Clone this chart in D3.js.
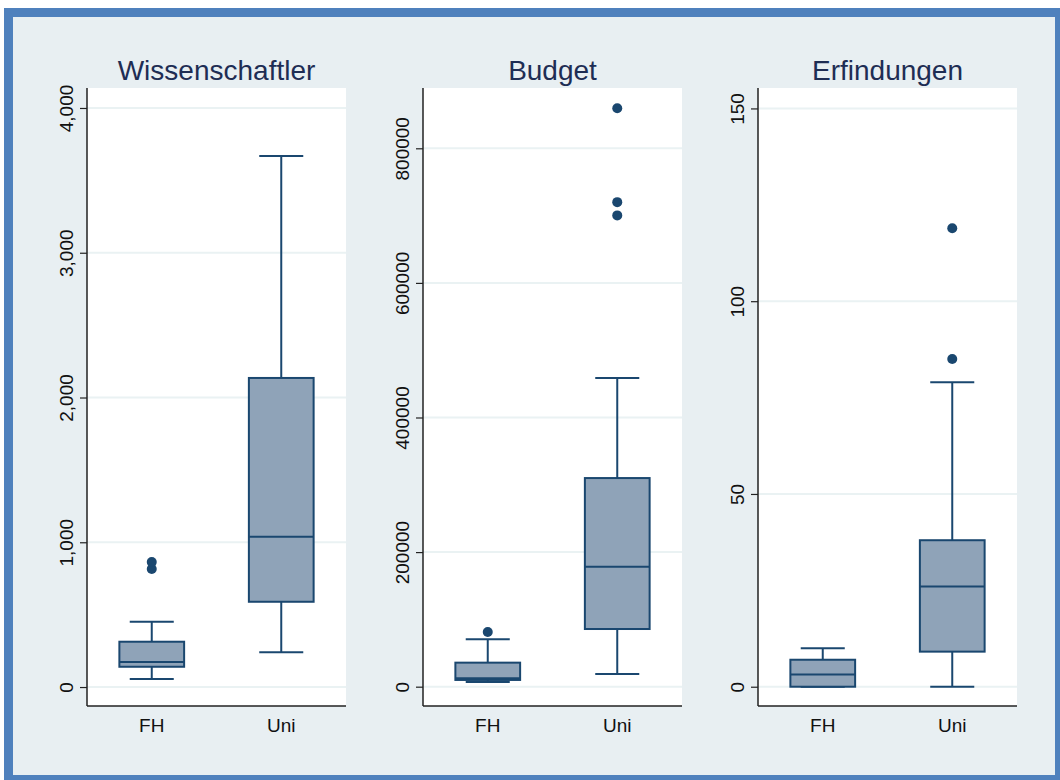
<!DOCTYPE html>
<html>
<head>
<meta charset="utf-8">
<script src="https://cdn.jsdelivr.net/npm/d3@7"></script>
<style>
  html, body { margin: 0; padding: 0; background: #ffffff; }
  svg { display: block; }
</style>
</head>
<body>
<svg id="chart" width="1060" height="780"></svg>
<script>
// Groups shown on every x axis
const groups = ["FH", "Uni"];
const titles = ["Wissenschaftler", "Budget", "Erfindungen"];

// Box summaries per group: [lower whisker, Q1, median, Q3, upper whisker]
const wissStats = [[55, 140, 173, 313, 451], [240, 589, 1038, 2135, 3668]];
const wissOutliers = [[815, 863], []];
const wissTicks = [0, 1000, 2000, 3000, 4000];
const wissDomain = [-131, 4138];

const budgetStats = [[7000, 10000, 12500, 35700, 70400], [18900, 85700, 178300, 310000, 458700]];
const budgetOutliers = [[81300], [700300, 720000, 859400]];
const budgetTicks = [0, 200000, 400000, 600000, 800000];
const budgetDomain = [-28700, 889600];

const erfStats = [[0, 0, 3.2, 7.0, 10.0], [0, 9.1, 26.0, 38.0, 79.0]];
const erfOutliers = [[], [85.0, 118.9]];
const erfTicks = [0, 50, 100, 150];
const erfDomain = [-5, 155.3];

const panels = [
  { title: titles[0], stats: wissStats, outliers: wissOutliers, ticks: wissTicks, domain: wissDomain, fmt: d3.format(","), left: 87 },
  { title: titles[1], stats: budgetStats, outliers: budgetOutliers, ticks: budgetTicks, domain: budgetDomain, fmt: d3.format("d"), left: 423 },
  { title: titles[2], stats: erfStats, outliers: erfOutliers, ticks: erfTicks, domain: erfDomain, fmt: d3.format("d"), left: 758 }
];

const FONT = "'Liberation Sans', Arial, Helvetica, sans-serif";
const navy = "#1a476f";
const boxFill = "#8fa3b8";
const gridCol = "#eaf2f3";
const plotW = 259, plotTop = 88, plotBottom = 706;

const svg = d3.select("#chart");

// Outer frame and background
svg.append("rect").attr("x", 4).attr("y", 8).attr("width", 1070).attr("height", 790).attr("fill", "#4f81bd");
svg.append("rect").attr("x", 13).attr("y", 17).attr("width", 1042).attr("height", 758).attr("fill", "#e8eff2");

panels.forEach(p => {
  const g = svg.append("g").attr("transform", `translate(${p.left},0)`);
  const y = d3.scaleLinear().domain(p.domain).range([plotBottom, plotTop]);
  const x = d3.scaleBand().domain(groups).range([0, plotW]).paddingInner(0.5).paddingOuter(0.25);
  const bw = x.bandwidth();
  const capW = bw * 0.68;

  // Plot area
  g.append("rect").attr("x", 0).attr("y", plotTop).attr("width", plotW).attr("height", plotBottom - plotTop).attr("fill", "#ffffff");

  // Gridlines
  g.selectAll("line.grid").data(p.ticks).join("line")
    .attr("class", "grid")
    .attr("x1", 0).attr("x2", plotW)
    .attr("y1", d => y(d)).attr("y2", d => y(d))
    .attr("stroke", gridCol).attr("stroke-width", 2);

  // Y axis
  const yAxis = d3.axisLeft(y).tickValues(p.ticks).tickFormat(p.fmt).tickSize(7).tickPadding(7);
  const ya = g.append("g").call(yAxis);
  ya.select(".domain").remove();
  ya.selectAll(".tick line").attr("stroke", "#222").attr("stroke-width", 1.2);
  ya.selectAll(".tick text")
    .attr("font-family", FONT).attr("font-size", 19).attr("fill", "#111")
    .attr("x", null).attr("dy", null)
    .attr("text-anchor", "middle")
    .attr("transform", "translate(-14,0) rotate(-90)");

  g.append("line").attr("x1", 0).attr("x2", 0).attr("y1", plotTop).attr("y2", plotBottom)
    .attr("stroke", "#222").attr("stroke-width", 1.5);
  g.append("line").attr("x1", 0).attr("x2", plotW).attr("y1", plotBottom).attr("y2", plotBottom)
    .attr("stroke", "#222").attr("stroke-width", 1.5);

  // X labels
  g.selectAll("text.xlab").data(groups).join("text")
    .attr("class", "xlab")
    .attr("x", d => x(d) + bw / 2).attr("y", 732)
    .attr("text-anchor", "middle")
    .attr("font-family", FONT).attr("font-size", 19).attr("fill", "#111")
    .text(d => d);

  // Title
  g.append("text").attr("x", plotW / 2).attr("y", 80)
    .attr("text-anchor", "middle")
    .attr("font-family", FONT).attr("font-size", 28).attr("fill", "#1e2d54")
    .text(p.title);

  // Boxes
  groups.forEach((grp, i) => {
    const [lo, q1, med, q3, hi] = p.stats[i];
    const cx = x(grp) + bw / 2;
    const bg = g.append("g").attr("stroke", navy).attr("stroke-width", 2);
    bg.append("line").attr("x1", cx).attr("x2", cx).attr("y1", y(q3)).attr("y2", y(hi));
    bg.append("line").attr("x1", cx).attr("x2", cx).attr("y1", y(lo)).attr("y2", y(q1));
    bg.append("line").attr("x1", cx - capW / 2).attr("x2", cx + capW / 2).attr("y1", y(hi)).attr("y2", y(hi));
    bg.append("line").attr("x1", cx - capW / 2).attr("x2", cx + capW / 2).attr("y1", y(lo)).attr("y2", y(lo));
    bg.append("rect").attr("x", x(grp)).attr("width", bw)
      .attr("y", y(q3)).attr("height", Math.max(0, y(q1) - y(q3)))
      .attr("fill", boxFill);
    bg.append("line").attr("x1", x(grp)).attr("x2", x(grp) + bw).attr("y1", y(med)).attr("y2", y(med));

    g.selectAll(null).data(p.outliers[i]).join("circle")
      .attr("cx", cx).attr("cy", d => y(d)).attr("r", 5)
      .attr("fill", navy);
  });
});
</script>
</body>
</html>
